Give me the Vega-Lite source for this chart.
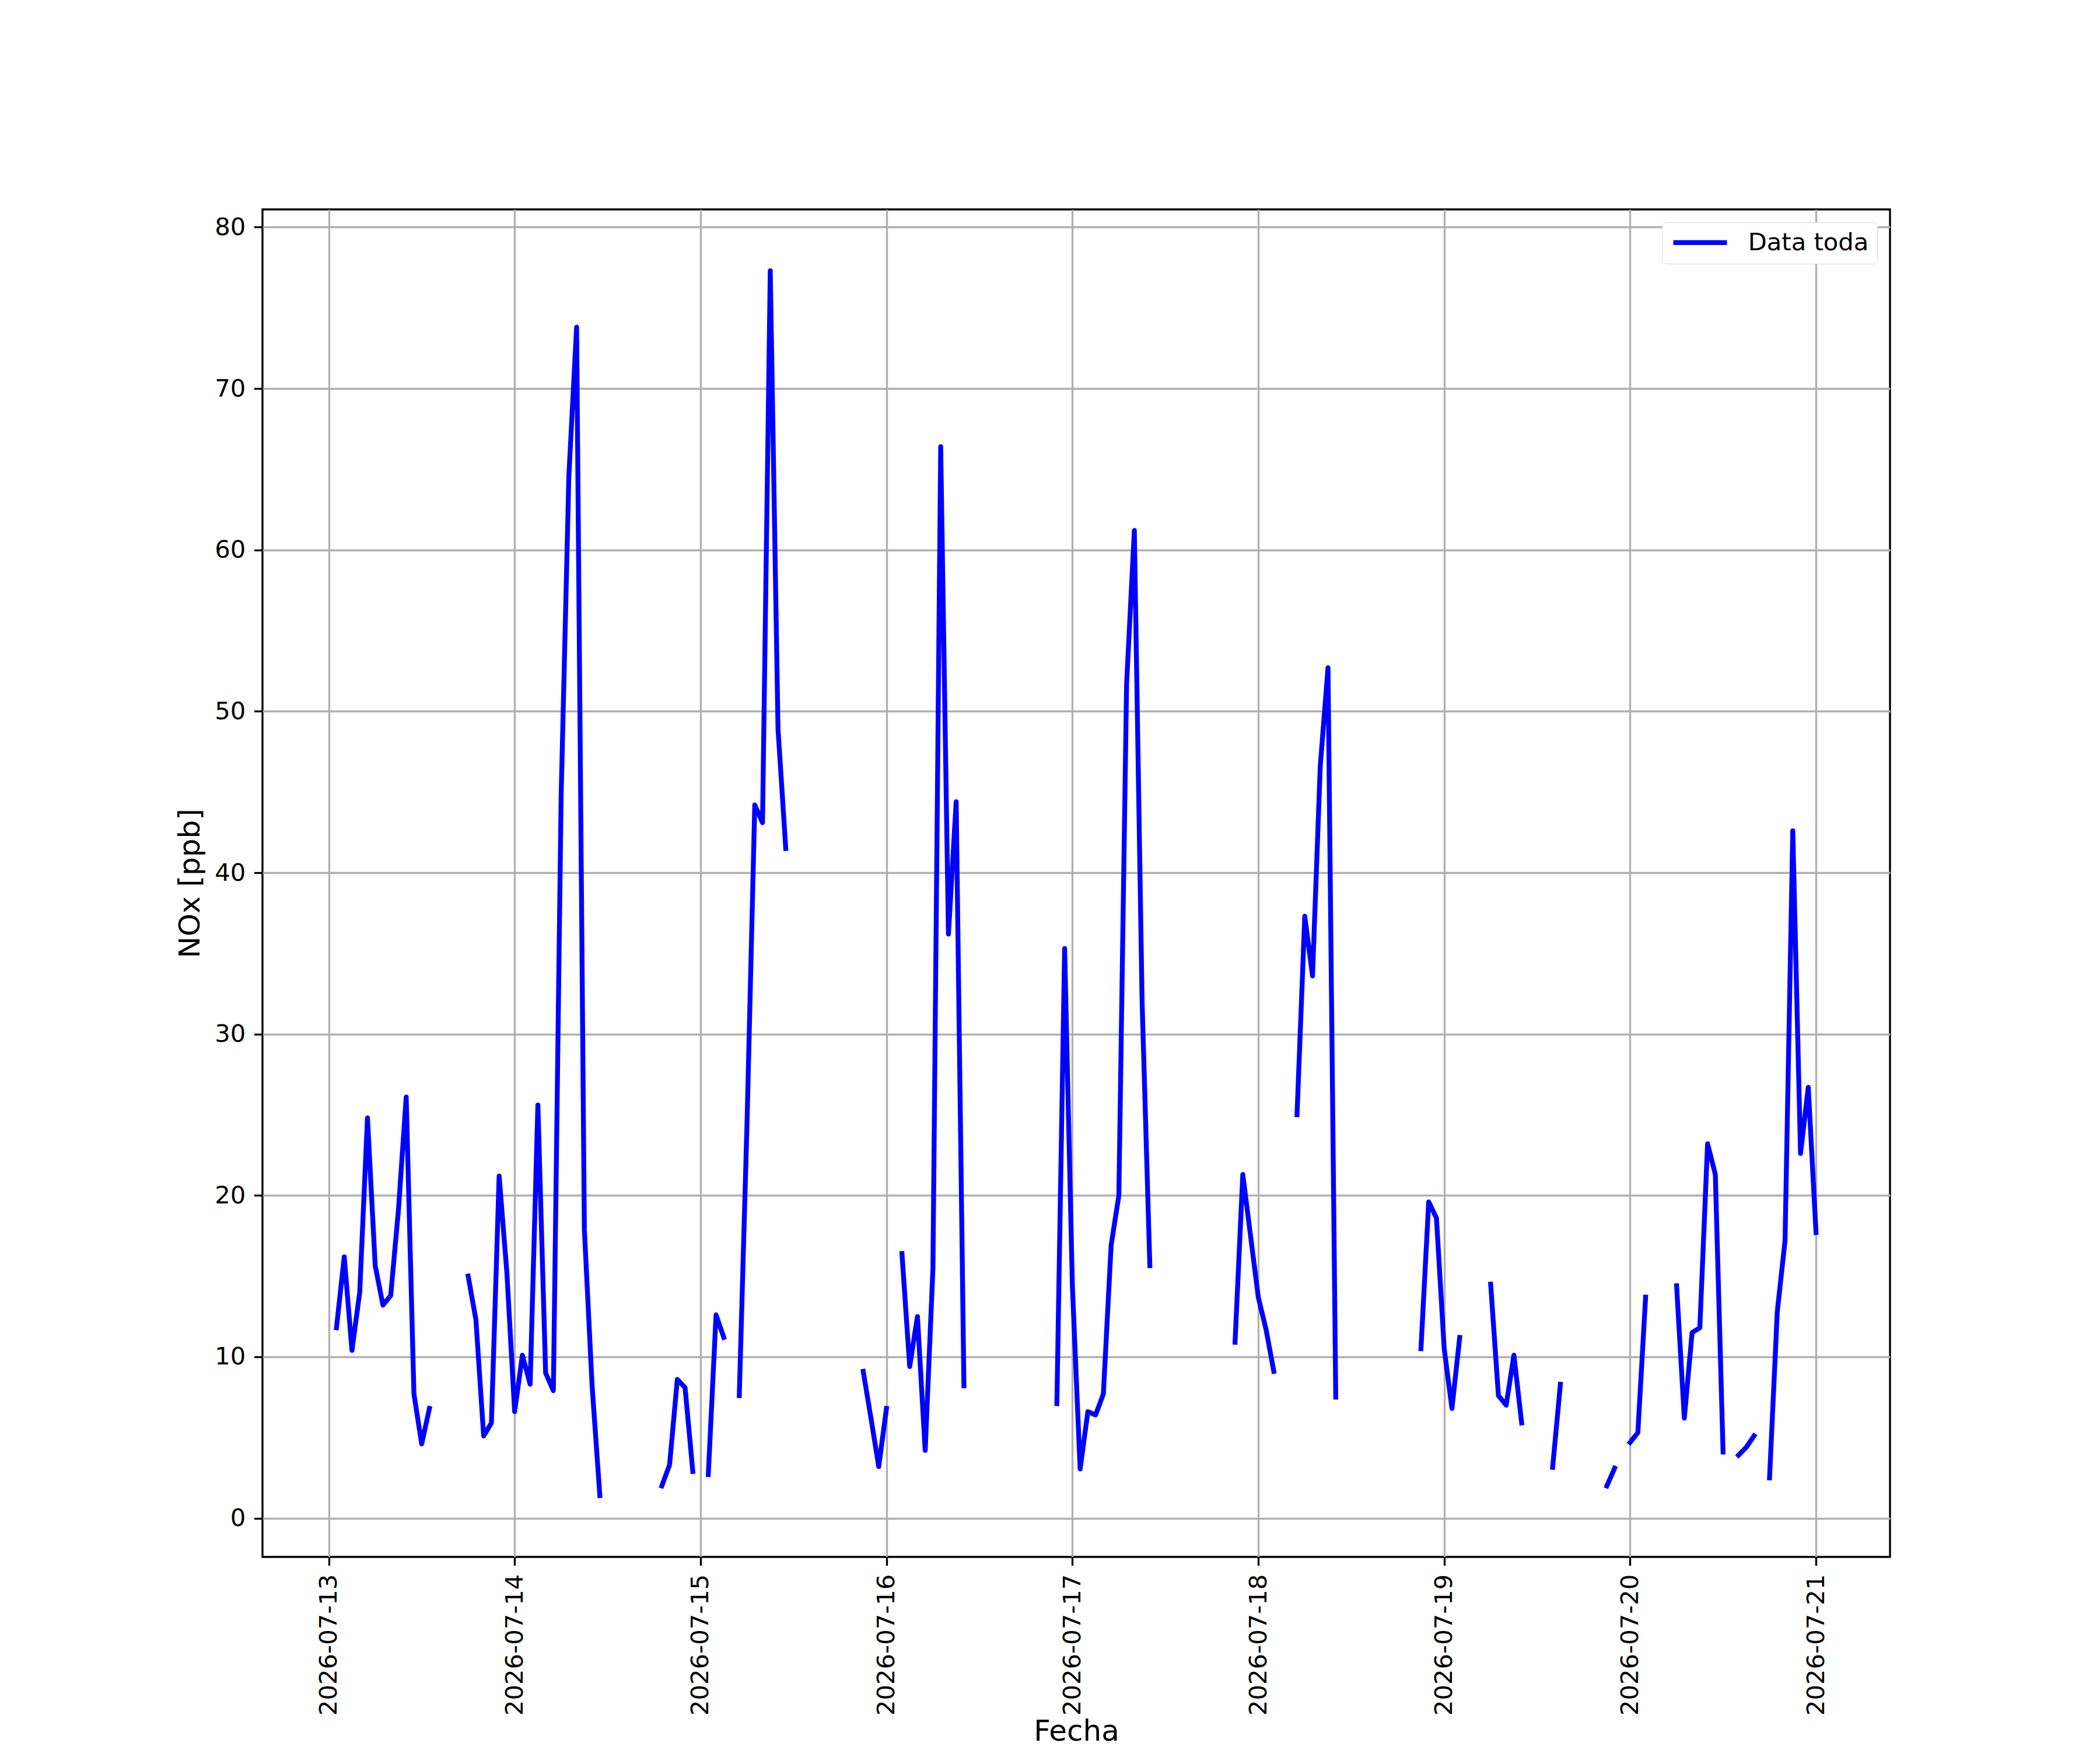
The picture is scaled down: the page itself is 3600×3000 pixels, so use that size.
{
  "$schema": "https://vega.github.io/schema/vega-lite/v6.json",
  "width": 2790,
  "height": 2310,
  "autosize": {"type": "none"},
  "padding": {"left": 450, "top": 359, "right": 360, "bottom": 331},
  "background": "#ffffff",
  "data": {
    "values": [
      {"fecha": "2026-07-13T01:00", "nox": 11.8},
      {"fecha": "2026-07-13T02:00", "nox": 16.2},
      {"fecha": "2026-07-13T03:00", "nox": 10.4},
      {"fecha": "2026-07-13T04:00", "nox": 14.0},
      {"fecha": "2026-07-13T05:00", "nox": 24.8},
      {"fecha": "2026-07-13T06:00", "nox": 15.65},
      {"fecha": "2026-07-13T07:00", "nox": 13.2},
      {"fecha": "2026-07-13T08:00", "nox": 13.8},
      {"fecha": "2026-07-13T09:00", "nox": 19.1},
      {"fecha": "2026-07-13T10:00", "nox": 26.1},
      {"fecha": "2026-07-13T11:00", "nox": 7.7},
      {"fecha": "2026-07-13T12:00", "nox": 4.6},
      {"fecha": "2026-07-13T13:00", "nox": 6.8},
      {"fecha": "2026-07-13T14:00", "nox": null},
      {"fecha": "2026-07-13T18:00", "nox": 15.0},
      {"fecha": "2026-07-13T19:00", "nox": 12.3},
      {"fecha": "2026-07-13T20:00", "nox": 5.1},
      {"fecha": "2026-07-13T21:00", "nox": 5.9},
      {"fecha": "2026-07-13T22:00", "nox": 21.2},
      {"fecha": "2026-07-13T23:00", "nox": 15.2},
      {"fecha": "2026-07-14T00:00", "nox": 6.6},
      {"fecha": "2026-07-14T01:00", "nox": 10.1},
      {"fecha": "2026-07-14T02:00", "nox": 8.3},
      {"fecha": "2026-07-14T03:00", "nox": 25.6},
      {"fecha": "2026-07-14T04:00", "nox": 9.0},
      {"fecha": "2026-07-14T05:00", "nox": 7.9},
      {"fecha": "2026-07-14T06:00", "nox": 44.7},
      {"fecha": "2026-07-14T07:00", "nox": 64.6},
      {"fecha": "2026-07-14T08:00", "nox": 73.8},
      {"fecha": "2026-07-14T09:00", "nox": 17.9},
      {"fecha": "2026-07-14T10:00", "nox": 8.2},
      {"fecha": "2026-07-14T11:00", "nox": 1.4},
      {"fecha": "2026-07-14T12:00", "nox": null},
      {"fecha": "2026-07-14T19:00", "nox": 2.0},
      {"fecha": "2026-07-14T20:00", "nox": 3.3},
      {"fecha": "2026-07-14T21:00", "nox": 8.6},
      {"fecha": "2026-07-14T22:00", "nox": 8.1},
      {"fecha": "2026-07-14T23:00", "nox": 2.9},
      {"fecha": "2026-07-15T00:00", "nox": null},
      {"fecha": "2026-07-15T01:00", "nox": 2.7},
      {"fecha": "2026-07-15T02:00", "nox": 12.6},
      {"fecha": "2026-07-15T03:00", "nox": 11.2},
      {"fecha": "2026-07-15T04:00", "nox": null},
      {"fecha": "2026-07-15T05:00", "nox": 7.6},
      {"fecha": "2026-07-15T06:00", "nox": 24.5},
      {"fecha": "2026-07-15T07:00", "nox": 44.2},
      {"fecha": "2026-07-15T08:00", "nox": 43.1},
      {"fecha": "2026-07-15T09:00", "nox": 77.3},
      {"fecha": "2026-07-15T10:00", "nox": 48.9},
      {"fecha": "2026-07-15T11:00", "nox": 41.5},
      {"fecha": "2026-07-15T12:00", "nox": null},
      {"fecha": "2026-07-15T21:00", "nox": 9.1},
      {"fecha": "2026-07-15T22:00", "nox": 6.2},
      {"fecha": "2026-07-15T23:00", "nox": 3.2},
      {"fecha": "2026-07-16T00:00", "nox": 6.8},
      {"fecha": "2026-07-16T01:00", "nox": null},
      {"fecha": "2026-07-16T02:00", "nox": 16.4},
      {"fecha": "2026-07-16T03:00", "nox": 9.4},
      {"fecha": "2026-07-16T04:00", "nox": 12.5},
      {"fecha": "2026-07-16T05:00", "nox": 4.2},
      {"fecha": "2026-07-16T06:00", "nox": 15.5},
      {"fecha": "2026-07-16T07:00", "nox": 66.4},
      {"fecha": "2026-07-16T08:00", "nox": 36.2},
      {"fecha": "2026-07-16T09:00", "nox": 44.4},
      {"fecha": "2026-07-16T10:00", "nox": 8.2},
      {"fecha": "2026-07-16T11:00", "nox": null},
      {"fecha": "2026-07-16T22:00", "nox": 7.1},
      {"fecha": "2026-07-16T23:00", "nox": 35.3},
      {"fecha": "2026-07-17T00:00", "nox": 14.4},
      {"fecha": "2026-07-17T01:00", "nox": 3.05},
      {"fecha": "2026-07-17T02:00", "nox": 6.6},
      {"fecha": "2026-07-17T03:00", "nox": 6.4},
      {"fecha": "2026-07-17T04:00", "nox": 7.7},
      {"fecha": "2026-07-17T05:00", "nox": 16.9},
      {"fecha": "2026-07-17T06:00", "nox": 20.0},
      {"fecha": "2026-07-17T07:00", "nox": 51.7},
      {"fecha": "2026-07-17T08:00", "nox": 61.2},
      {"fecha": "2026-07-17T09:00", "nox": 32.0},
      {"fecha": "2026-07-17T10:00", "nox": 15.65},
      {"fecha": "2026-07-17T11:00", "nox": null},
      {"fecha": "2026-07-17T21:00", "nox": 10.9},
      {"fecha": "2026-07-17T22:00", "nox": 21.3},
      {"fecha": "2026-07-17T23:00", "nox": 17.5},
      {"fecha": "2026-07-18T00:00", "nox": 13.7},
      {"fecha": "2026-07-18T01:00", "nox": 11.7},
      {"fecha": "2026-07-18T02:00", "nox": 9.1},
      {"fecha": "2026-07-18T03:00", "nox": null},
      {"fecha": "2026-07-18T05:00", "nox": 25.0},
      {"fecha": "2026-07-18T06:00", "nox": 37.3},
      {"fecha": "2026-07-18T07:00", "nox": 33.6},
      {"fecha": "2026-07-18T08:00", "nox": 46.6},
      {"fecha": "2026-07-18T09:00", "nox": 52.7},
      {"fecha": "2026-07-18T10:00", "nox": 7.5},
      {"fecha": "2026-07-18T11:00", "nox": null},
      {"fecha": "2026-07-18T21:00", "nox": 10.5},
      {"fecha": "2026-07-18T22:00", "nox": 19.6},
      {"fecha": "2026-07-18T23:00", "nox": 18.6},
      {"fecha": "2026-07-19T00:00", "nox": 10.5},
      {"fecha": "2026-07-19T01:00", "nox": 6.8},
      {"fecha": "2026-07-19T02:00", "nox": 11.2},
      {"fecha": "2026-07-19T03:00", "nox": null},
      {"fecha": "2026-07-19T06:00", "nox": 14.5},
      {"fecha": "2026-07-19T07:00", "nox": 7.6},
      {"fecha": "2026-07-19T08:00", "nox": 7.0},
      {"fecha": "2026-07-19T09:00", "nox": 10.1},
      {"fecha": "2026-07-19T10:00", "nox": 5.9},
      {"fecha": "2026-07-19T11:00", "nox": null},
      {"fecha": "2026-07-19T14:00", "nox": 3.15},
      {"fecha": "2026-07-19T15:00", "nox": 8.3},
      {"fecha": "2026-07-19T16:00", "nox": null},
      {"fecha": "2026-07-19T21:00", "nox": 2.0},
      {"fecha": "2026-07-19T22:00", "nox": 3.1},
      {"fecha": "2026-07-19T23:00", "nox": null},
      {"fecha": "2026-07-20T00:00", "nox": 4.7},
      {"fecha": "2026-07-20T01:00", "nox": 5.3},
      {"fecha": "2026-07-20T02:00", "nox": 13.7},
      {"fecha": "2026-07-20T03:00", "nox": null},
      {"fecha": "2026-07-20T06:00", "nox": 14.4},
      {"fecha": "2026-07-20T07:00", "nox": 6.2},
      {"fecha": "2026-07-20T08:00", "nox": 11.5},
      {"fecha": "2026-07-20T09:00", "nox": 11.8},
      {"fecha": "2026-07-20T10:00", "nox": 23.2},
      {"fecha": "2026-07-20T11:00", "nox": 21.3},
      {"fecha": "2026-07-20T12:00", "nox": 4.1},
      {"fecha": "2026-07-20T13:00", "nox": null},
      {"fecha": "2026-07-20T14:00", "nox": 3.9},
      {"fecha": "2026-07-20T15:00", "nox": 4.4},
      {"fecha": "2026-07-20T16:00", "nox": 5.1},
      {"fecha": "2026-07-20T17:00", "nox": null},
      {"fecha": "2026-07-20T18:00", "nox": 2.5},
      {"fecha": "2026-07-20T19:00", "nox": 12.8},
      {"fecha": "2026-07-20T20:00", "nox": 17.2},
      {"fecha": "2026-07-20T21:00", "nox": 42.6},
      {"fecha": "2026-07-20T22:00", "nox": 22.6},
      {"fecha": "2026-07-20T23:00", "nox": 26.7},
      {"fecha": "2026-07-21T00:00", "nox": 17.7}
    ]
  },
  "mark": {
    "type": "line",
    "strokeWidth": 8.33,
    "strokeCap": "square",
    "strokeJoin": "round",
    "clip": true,
    "invalid": "break-paths-show-domains"
  },
  "encoding": {
    "x": {
      "field": "fecha",
      "type": "temporal",
      "title": "Fecha",
      "scale": {
        "domain": [
          {"year": 2026, "month": 7, "date": 12, "hours": 15, "minutes": 27},
          {"year": 2026, "month": 7, "date": 21, "hours": 9, "minutes": 33}
        ],
        "nice": false
      },
      "axis": {
        "values": [
          {"year": 2026, "month": 7, "date": 13},
          {"year": 2026, "month": 7, "date": 14},
          {"year": 2026, "month": 7, "date": 15},
          {"year": 2026, "month": 7, "date": 16},
          {"year": 2026, "month": 7, "date": 17},
          {"year": 2026, "month": 7, "date": 18},
          {"year": 2026, "month": 7, "date": 19},
          {"year": 2026, "month": 7, "date": 20},
          {"year": 2026, "month": 7, "date": 21}
        ],
        "format": "%Y-%m-%d",
        "labelAngle": -90,
        "labelAlign": "right",
        "labelBaseline": "middle",
        "labelLimit": 0,
        "titleY": 314,
        "titleBaseline": "alphabetic"
      }
    },
    "y": {
      "field": "nox",
      "type": "quantitative",
      "title": "NOx [ppb]",
      "scale": {"domain": [-2.4, 81.1], "nice": false, "zero": false},
      "axis": {"values": [0, 10, 20, 30, 40, 50, 60, 70, 80], "format": "d"}
    },
    "color": {
      "datum": "Data toda",
      "scale": {"range": ["#0000ff"]},
      "legend": {
        "title": null,
        "orient": "top-right",
        "offset": 22,
        "padding": 14,
        "strokeColor": "#d6d6d6",
        "fillColor": "#ffffff",
        "cornerRadius": 8,
        "symbolType": "M-1,0H5",
        "symbolStrokeWidth": 8.33,
        "symbolSize": 940,
        "labelFontSize": 41.7,
        "labelFont": "DejaVu Sans",
        "labelColor": "#000000",
        "labelOffset": 92,
        "labelLimit": 0
      }
    }
  },
  "config": {
    "font": "DejaVu Sans",
    "view": {"stroke": "#000000", "strokeWidth": 3.33},
    "axis": {
      "domain": false,
      "grid": true,
      "gridColor": "#b0b0b0",
      "gridWidth": 3.33,
      "tickColor": "#000000",
      "tickWidth": 3.33,
      "tickSize": 14.6,
      "labelFont": "DejaVu Sans",
      "labelFontSize": 41.7,
      "labelColor": "#000000",
      "labelPadding": 14.6,
      "labelFlush": false,
      "labelOverlap": false,
      "titleFont": "DejaVu Sans",
      "titleFontSize": 50,
      "titleFontWeight": "normal",
      "titleColor": "#000000",
      "titlePadding": 16.7
    }
  }
}
